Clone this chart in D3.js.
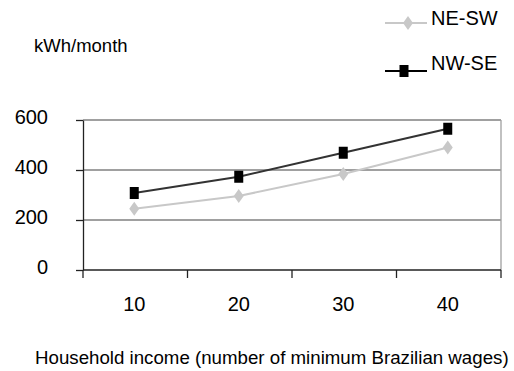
<!DOCTYPE html>
<html>
<head>
<meta charset="utf-8">
<script src="https://cdn.jsdelivr.net/npm/d3@7"></script>
<style>
  html, body { margin: 0; padding: 0; background: #fff; }
  svg { display: block; font-family: "Liberation Sans", Arial, sans-serif; }
</style>
</head>
<body>
<svg id="chart" width="514" height="371"></svg>
<script>
// Household electricity use by income bracket
const incomes = ["10", "20", "30", "40"];
const neSw = [245, 296, 384, 490];
const nwSe = [308, 373, 469, 565];
const yTicks = [0, 200, 400, 600];
const seriesNames = ["NE-SW", "NW-SE"];

const svg = d3.select("#chart");
const plot = { left: 83, right: 501, top: 120, bottom: 270 };

const x = d3.scaleBand().domain(incomes).range([plot.left, plot.right]);
const y = d3.scaleLinear().domain([0, 600]).range([plot.bottom, plot.top]);

// Horizontal gridlines and right border
svg.append("g").selectAll("line").data(yTicks.filter(d => d > 0)).join("line")
  .attr("x1", plot.left).attr("x2", plot.right)
  .attr("y1", d => y(d)).attr("y2", d => y(d))
  .attr("stroke", "#808080").attr("stroke-width", 1.3);
svg.append("line")
  .attr("x1", plot.right).attr("x2", plot.right)
  .attr("y1", plot.top).attr("y2", plot.bottom)
  .attr("stroke", "#a0a0a0").attr("stroke-width", 1.3);

// Y axis
const yAxis = svg.append("g")
  .attr("transform", `translate(${plot.left},0)`)
  .call(d3.axisLeft(y).tickValues(yTicks).tickSize(7).tickPadding(28).tickSizeOuter(0));
yAxis.select(".domain").attr("stroke", "#222").attr("stroke-width", 1.3);
yAxis.selectAll(".tick line").attr("stroke", "#222").attr("stroke-width", 1.3);
yAxis.selectAll("text").attr("font-size", 20).attr("fill", "#000").attr("dy", "0.17em")
  .attr("font-family", "'Liberation Sans', Arial, sans-serif");

// X axis: ticks at band boundaries, labels at band centres
const xAxis = svg.append("g").attr("transform", `translate(0,${plot.bottom})`);
xAxis.append("line").attr("x1", plot.left).attr("x2", plot.right)
  .attr("stroke", "#222").attr("stroke-width", 1.3);
const edges = incomes.map(d => x(d)).concat([plot.right]);
xAxis.selectAll("line.tk").data(edges).join("line").attr("class", "tk")
  .attr("x1", d => d).attr("x2", d => d).attr("y1", 0).attr("y2", 8)
  .attr("stroke", "#222").attr("stroke-width", 1.3);
xAxis.selectAll("text").data(incomes).join("text")
  .attr("x", d => x(d) + x.bandwidth() / 2 - 1).attr("y", 41)
  .attr("text-anchor", "middle").attr("font-size", 20).attr("fill", "#000")
  .text(d => d);

const cx = d => x(d) + x.bandwidth() / 2 - 1;
const line = d3.line().x((d, i) => cx(incomes[i])).y(d => y(d));

// NE-SW series: light grey with diamonds
svg.append("path").datum(neSw).attr("d", line)
  .attr("fill", "none").attr("stroke", "#c8c8c8").attr("stroke-width", 2);
const diamond = (px, py) => `M${px},${py - 7}L${px + 5},${py}L${px},${py + 7}L${px - 5},${py}Z`;
svg.append("g").selectAll("path").data(neSw).join("path")
  .attr("d", (d, i) => diamond(cx(incomes[i]), y(d)))
  .attr("fill", "#c8c8c8");

// NW-SE series: dark line with black squares
svg.append("path").datum(nwSe).attr("d", line)
  .attr("fill", "none").attr("stroke", "#333").attr("stroke-width", 2);
svg.append("g").selectAll("rect").data(nwSe).join("rect")
  .attr("x", (d, i) => cx(incomes[i]) - 4.5).attr("y", d => y(d) - 6)
  .attr("width", 9).attr("height", 12).attr("fill", "#000");

// Unit label
svg.append("text").attr("x", 34).attr("y", 52).attr("font-size", 18.5)
  .attr("fill", "#000").text("kWh/month");

// Legend
const legend = svg.append("g");
const legY = [23, 71];
const legBase = [25, 70];
legend.append("line").attr("x1", 385).attr("x2", 427).attr("y1", legY[0]).attr("y2", legY[0])
  .attr("stroke", "#c8c8c8").attr("stroke-width", 2);
legend.append("path").attr("d", diamond(408, legY[0])).attr("fill", "#c8c8c8");
legend.append("line").attr("x1", 385).attr("x2", 427).attr("y1", legY[1]).attr("y2", legY[1])
  .attr("stroke", "#000").attr("stroke-width", 2);
legend.append("rect").attr("x", 404 - 4.5).attr("y", legY[1] - 6).attr("width", 9).attr("height", 12)
  .attr("fill", "#000");
legend.selectAll("text").data(seriesNames).join("text")
  .attr("x", 431).attr("y", (d, i) => legBase[i]).attr("font-size", 20).attr("fill", "#000")
  .text(d => d);

// X axis title
svg.append("text").attr("x", 35).attr("y", 364).attr("font-size", 18.7).attr("fill", "#000")
  .text("Household income (number of minimum Brazilian wages)");
</script>
</body>
</html>
